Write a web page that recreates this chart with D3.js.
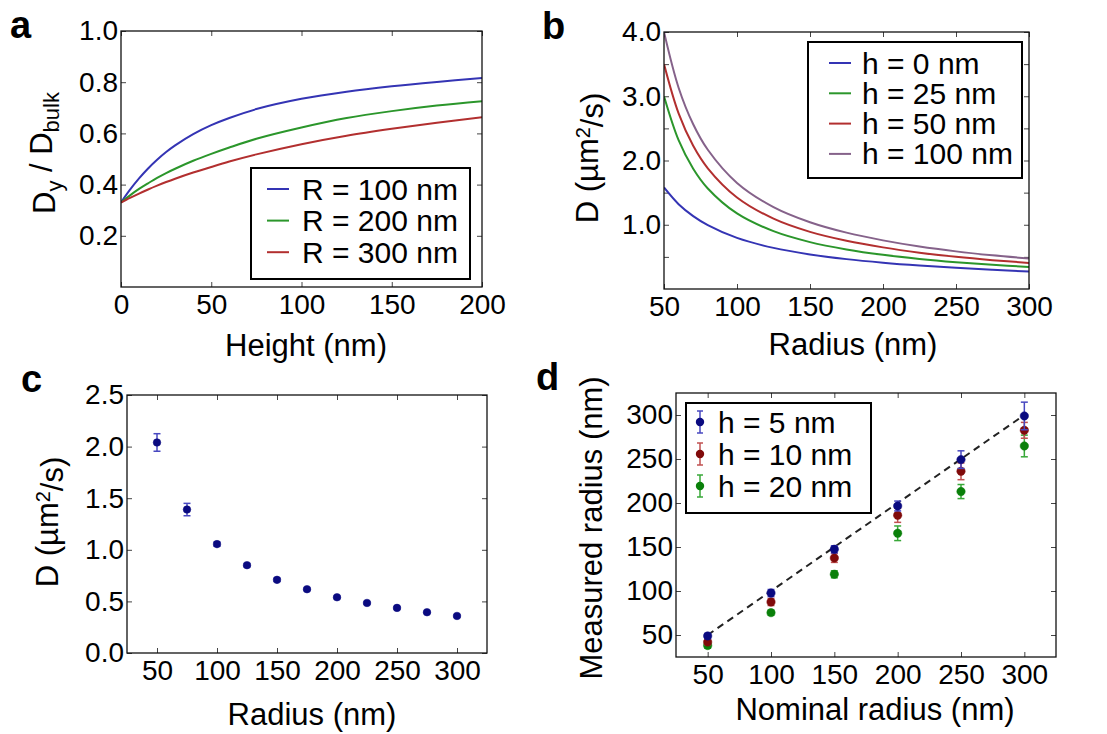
<html>
<head>
<script src="https://d3js.org/d3.v7.min.js"></script>
<style>
  body { margin: 0; background: #fff; }
  text { font-family: "Liberation Sans", Arial, sans-serif; fill: #000; }
  .tick line { stroke: #444; }
</style>
</head>
<body>
<svg id="fig" width="1107" height="734"></svg>
<script>
// ---------------- data ----------------
// panel a : D_y / D_bulk vs height
var heightA = [0, 5, 10, 15, 20, 25, 30, 40, 50, 60, 75, 100, 125, 150, 175, 200];
var aR100 = [0.33, 0.38, 0.424, 0.463, 0.497, 0.527, 0.553, 0.597, 0.632, 0.66, 0.695, 0.735, 0.763, 0.784, 0.801, 0.816];
var aR200 = [0.33, 0.358, 0.383, 0.405, 0.426, 0.445, 0.462, 0.493, 0.52, 0.545, 0.579, 0.623, 0.66, 0.687, 0.709, 0.726];
var aR300 = [0.33, 0.348, 0.365, 0.381, 0.396, 0.41, 0.423, 0.447, 0.469, 0.49, 0.518, 0.558, 0.591, 0.618, 0.642, 0.663];
var aLabels = ["R = 100 nm", "R = 200 nm", "R = 300 nm"];

// panel b : D vs radius
var radiusB = [50, 60, 70, 80, 100, 125, 150, 175, 200, 225, 250, 275, 300];
var bH0   = [1.58, 1.32, 1.135, 0.995, 0.795, 0.64, 0.538, 0.465, 0.41, 0.366, 0.33, 0.30, 0.272];
var bH25  = [3.0, 2.316, 1.872, 1.565, 1.176, 0.90, 0.73, 0.616, 0.532, 0.4685, 0.418, 0.377, 0.343];
var bH50  = [3.5, 2.732, 2.229, 1.879, 1.425, 1.095, 0.8895, 0.751, 0.648, 0.566, 0.501, 0.449, 0.406];
var bH100 = [4.0, 3.133, 2.564, 2.167, 1.651, 1.2745, 1.039, 0.877, 0.757, 0.661, 0.5855, 0.5247, 0.4748];
var bLabels = ["h = 0 nm", "h = 25 nm", "h = 50 nm", "h = 100 nm"];

// panel c : measured D vs radius
var radiusC = [50, 75, 100, 125, 150, 175, 200, 225, 250, 275, 300];
var cD   = [2.04, 1.39, 1.055, 0.851, 0.709, 0.618, 0.54, 0.485, 0.437, 0.395, 0.359];
var cErr = [0.085, 0.06, 0.02, 0.015, 0.015, 0.012, 0.012, 0.01, 0.01, 0.01, 0.01];

// panel d : measured vs nominal radius
var nominalD = [50, 100, 150, 200, 250, 300];
var dH5   = [48.9, 97.7, 147.4, 196.6, 249.3, 298.9];
var dH5e  = [3, 4, 4, 5.6, 10, 15.7];
var dH10  = [42, 87.5, 137.5, 186, 236, 282.6];
var dH10e = [3, 4, 5, 8, 9.5, 9];
var dH20  = [38, 75.4, 119, 165.6, 213, 264.8];
var dH20e = [3, 3, 4, 8.3, 8, 12.3];
var dLabels = ["h = 5 nm", "h = 10 nm", "h = 20 nm"];

// ---------------- helpers ----------------
var svg = d3.select("#fig");
var TICK = 28, LAB = 31, LEG = 30;

function panel(o) {
	var x = d3.scaleLinear().domain(o.xd).range([o.x0, o.x1]);
	var y = d3.scaleLinear().domain(o.yd).range([o.y1, o.y0]);
	var g = svg.append("g");
	var sz = 5;

	g.append("g").attr("transform", "translate(0," + o.y1 + ")")
		.call(d3.axisBottom(x).tickValues(o.xt).tickSizeInner(-sz).tickSizeOuter(0).tickPadding(7).tickFormat(o.xf || d3.format("d")))
		.call(s => s.select(".domain").remove())
		.selectAll("text").style("font-size", TICK + "px").style("font-family", "Liberation Sans, Arial");
	g.append("g").attr("transform", "translate(0," + o.y0 + ")")
		.call(d3.axisTop(x).tickValues(o.xt).tickSizeInner(-sz).tickSizeOuter(0).tickFormat(""))
		.call(s => s.select(".domain").remove());
	g.append("g").attr("transform", "translate(" + o.x0 + ",0)")
		.call(d3.axisLeft(y).tickValues(o.yt).tickSizeInner(-sz).tickSizeOuter(0).tickPadding(3).tickFormat(o.yf))
		.call(s => s.select(".domain").remove())
		.selectAll("text").style("font-size", TICK + "px").style("font-family", "Liberation Sans, Arial");
	g.append("g").attr("transform", "translate(" + o.x1 + ",0)")
		.call(d3.axisRight(y).tickValues(o.yt).tickSizeInner(-sz).tickSizeOuter(0).tickFormat(""))
		.call(s => s.select(".domain").remove());

	var clipId = "clip" + o.name;
	svg.append("clipPath").attr("id", clipId).append("rect")
		.attr("x", o.x0).attr("y", o.y0).attr("width", o.x1 - o.x0).attr("height", o.y1 - o.y0);
	var plot = g.append("g").attr("clip-path", o.clip ? "url(#" + clipId + ")" : null);

	g.append("rect").attr("x", o.x0).attr("y", o.y0)
		.attr("width", o.x1 - o.x0).attr("height", o.y1 - o.y0)
		.attr("fill", "none").attr("stroke", "#111").attr("stroke-width", 1.3);

	// panel letter
	g.append("text").attr("x", o.lx).attr("y", o.ly)
		.style("font-size", "38px").style("font-weight", "bold").text(o.name);
	return {x: x, y: y, g: g, plot: plot};
}

function xLabel(g, cx, by, txt) {
	g.append("text").attr("x", cx).attr("y", by).attr("text-anchor", "middle")
		.style("font-size", LAB + "px").text(txt);
}

function yLabelUnits(g, bx, cy) {
	var t = g.append("text").attr("transform", "translate(" + bx + "," + cy + ") rotate(-90)")
		.attr("text-anchor", "middle").style("font-size", LAB + "px");
	t.append("tspan").text("D (\u00b5m");
	t.append("tspan").attr("dy", "-0.42em").style("font-size", "20px").text("2");
	t.append("tspan").attr("dy", "0.42em").text("/s)");
}

function legendBox(g, x0, y0, x1, y1) {
	g.append("rect").attr("x", x0).attr("y", y0).attr("width", x1 - x0).attr("height", y1 - y0)
		.attr("fill", "#fff").attr("stroke", "#000").attr("stroke-width", 2);
}

// ---------------- panel a ----------------
var colA = ["#3434b4", "#2b962b", "#b22f2f"];
var pa = panel({name: "a", x0: 121, x1: 482, y0: 31, y1: 287, xd: [0, 200], yd: [0, 1],
	xt: [0, 50, 100, 150, 200], yt: [0.2, 0.4, 0.6, 0.8, 1.0], yf: d3.format(".1f"),
	lx: 10, ly: 38, clip: true});
var lineA = d3.line().x((d, i) => pa.x(heightA[i])).y(d => pa.y(d)).curve(d3.curveCatmullRom.alpha(0.5));
[aR100, aR200, aR300].forEach(function(s, k) {
	pa.plot.append("path").attr("d", lineA(s)).attr("fill", "none")
		.attr("stroke", colA[k]).attr("stroke-width", 2);
});
xLabel(pa.g, 306, 356, "Height (nm)");
(function() {
	var t = pa.g.append("text").attr("transform", "translate(55,153) rotate(-90)")
		.attr("text-anchor", "middle").style("font-size", LAB + "px");
	t.append("tspan").text("D");
	t.append("tspan").attr("dy", "0.3em").style("font-size", "22px").text("y");
	t.append("tspan").attr("dy", "-0.3em").text(" / D");
	t.append("tspan").attr("dy", "0.3em").style("font-size", "22px").text("bulk");
})();
legendBox(pa.g, 251, 168, 470, 279);
aLabels.forEach(function(l, k) {
	var cy = 189 + k * 31.6;
	pa.g.append("line").attr("x1", 267).attr("x2", 289).attr("y1", cy).attr("y2", cy)
		.attr("stroke", colA[k]).attr("stroke-width", 2);
	pa.g.append("text").attr("x", 302).attr("y", cy + 10.5).style("font-size", LEG + "px").text(l);
});

// ---------------- panel b ----------------
var colB = ["#3434b4", "#2b962b", "#b22f2f", "#85628a"];
var pb = panel({name: "b", x0: 664, x1: 1029, y0: 32, y1: 289, xd: [50, 300], yd: [0, 4],
	xt: [50, 100, 150, 200, 250, 300], yt: [0.5, 1, 1.5, 2, 2.5, 3, 3.5, 4],
	yf: d => (d % 1 === 0 ? d.toFixed(1) : ""), lx: 542, ly: 39, clip: true});
var lineB = d3.line().x((d, i) => pb.x(radiusB[i])).y(d => pb.y(d)).curve(d3.curveCatmullRom.alpha(0.5));
[bH0, bH25, bH50, bH100].forEach(function(s, k) {
	pb.plot.append("path").attr("d", lineB(s)).attr("fill", "none")
		.attr("stroke", colB[k]).attr("stroke-width", 2);
});
xLabel(pb.g, 853, 355, "Radius (nm)");
yLabelUnits(pb.g, 598, 158);
legendBox(pb.g, 808, 42, 1022, 178);
bLabels.forEach(function(l, k) {
	var cy = 63 + k * 30.3;
	pb.g.append("line").attr("x1", 829).attr("x2", 851).attr("y1", cy).attr("y2", cy)
		.attr("stroke", colB[k]).attr("stroke-width", 2);
	pb.g.append("text").attr("x", 862).attr("y", cy + 10.5).style("font-size", LEG + "px").text(l);
});

// ---------------- panel c ----------------
var pc = panel({name: "c", x0: 127, x1: 487, y0: 395, y1: 653, xd: [25, 325], yd: [0, 2.5],
	xt: [50, 100, 150, 200, 250, 300], yt: [0, 0.5, 1, 1.5, 2, 2.5], yf: d3.format(".1f"),
	lx: 21, ly: 392, clip: false});
function errDots(p, xs, ys, es, dot, bar, r, cap) {
	var grp = p.plot.append("g");
	xs.forEach(function(xv, i) {
		var cx = p.x(xv), top = p.y(ys[i] + es[i]), bot = p.y(ys[i] - es[i]);
		grp.append("line").attr("x1", cx).attr("x2", cx).attr("y1", top).attr("y2", bot)
			.attr("stroke", bar).attr("stroke-width", 1.5);
		[top, bot].forEach(function(yy) {
			grp.append("line").attr("x1", cx - cap).attr("x2", cx + cap).attr("y1", yy).attr("y2", yy)
				.attr("stroke", bar).attr("stroke-width", 1.5);
		});
	});
	grp.selectAll("circle").data(ys).enter().append("circle")
		.attr("cx", (d, i) => p.x(xs[i])).attr("cy", d => p.y(d)).attr("r", r)
		.attr("fill", dot).attr("stroke", dot).attr("stroke-opacity", 0.5);
}
errDots(pc, radiusC, cD, cErr, "#0a0a80", "#4848c0", 3.8, 3.5);
xLabel(pc.g, 312, 725, "Radius (nm)");
yLabelUnits(pc.g, 58, 522);

// ---------------- panel d ----------------
var pd = panel({name: "d", x0: 676, x1: 1056, y0: 393, y1: 657, xd: [25, 325], yd: [25, 325],
	xt: [50, 100, 150, 200, 250, 300], yt: [50, 100, 150, 200, 250, 300], yf: d3.format("d"),
	lx: 536, ly: 390, clip: false});
pd.plot.append("line").attr("x1", pd.x(50)).attr("y1", pd.y(50)).attr("x2", pd.x(300)).attr("y2", pd.y(300))
	.attr("stroke", "#222").attr("stroke-width", 2).attr("stroke-dasharray", "7,5");
var dotD = ["#0a0a80", "#800a0a", "#0a800a"], barD = ["#4848c0", "#c05050", "#38a838"];
errDots(pd, nominalD, dH20, dH20e, dotD[2], barD[2], 4.2, 3.5);
errDots(pd, nominalD, dH10, dH10e, dotD[1], barD[1], 4.2, 3.5);
errDots(pd, nominalD, dH5, dH5e, dotD[0], barD[0], 4.2, 3.5);
xLabel(pd.g, 875, 720, "Nominal radius (nm)");
pd.g.append("text").attr("transform", "translate(602,528) rotate(-90)").attr("text-anchor", "middle")
	.style("font-size", LAB + "px").text("Measured radius (nm)");
legendBox(pd.g, 686, 403, 871, 513);
dLabels.forEach(function(l, k) {
	var cy = 422 + k * 32;
	pd.g.append("line").attr("x1", 700).attr("x2", 700).attr("y1", cy - 11).attr("y2", cy + 11)
		.attr("stroke", barD[k]).attr("stroke-width", 1.5);
	[cy - 11, cy + 11].forEach(function(yy) {
		pd.g.append("line").attr("x1", 697).attr("x2", 703).attr("y1", yy).attr("y2", yy)
			.attr("stroke", barD[k]).attr("stroke-width", 1.5);
	});
	pd.g.append("circle").attr("cx", 700).attr("cy", cy).attr("r", 4.2).attr("fill", dotD[k]);
	pd.g.append("text").attr("x", 718).attr("y", cy + 10.5).style("font-size", LEG + "px").text(l);
});
</script>
</body>
</html>
